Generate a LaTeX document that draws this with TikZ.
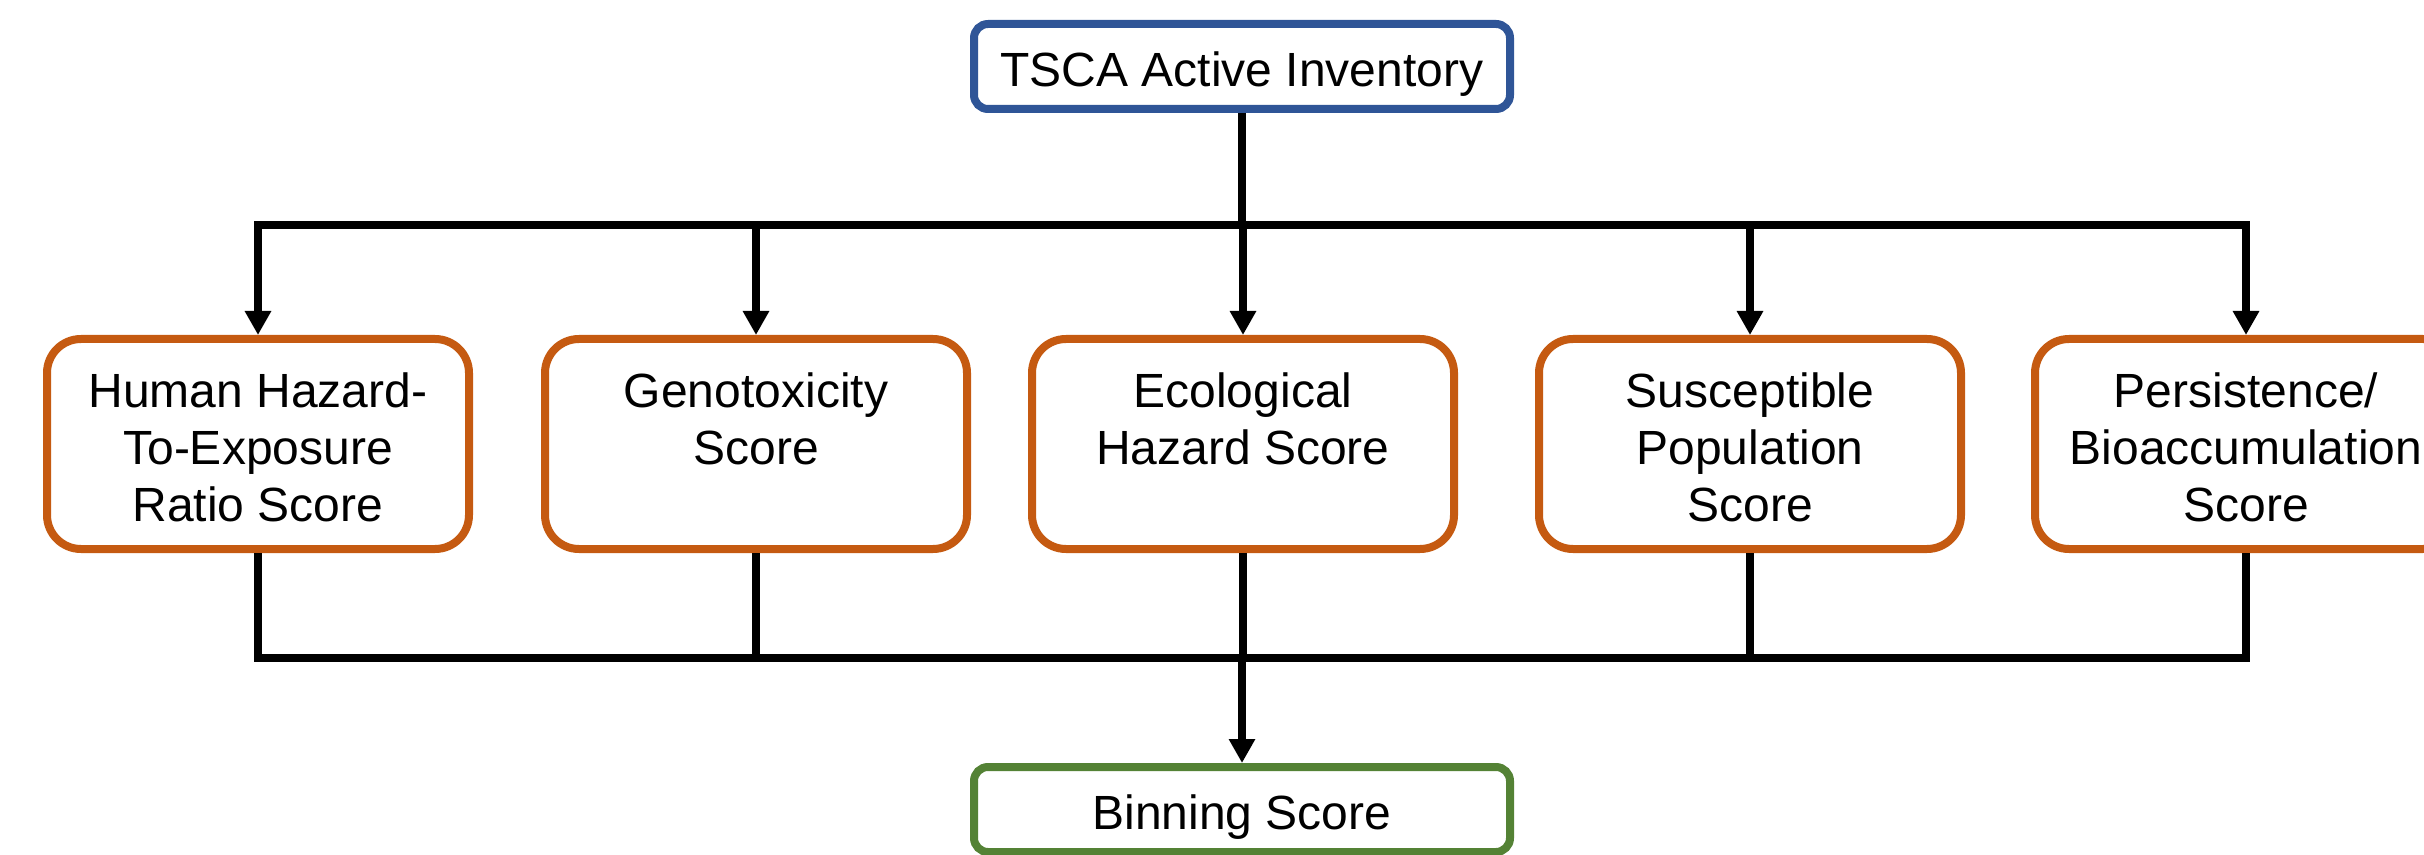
\documentclass[tikz,border=0pt]{standalone}
\usepackage{fontspec}
\setmainfont{Liberation Sans}
\usetikzlibrary{arrows.meta}
\definecolor{invblue}{HTML}{2F5597}
\definecolor{scoreorange}{HTML}{C55A11}
\definecolor{bingreen}{HTML}{548235}
\tikzset{
  boxfont/.style={font=\fontsize{24}{28.5}\selectfont},
  scorebox/.style={draw=scoreorange, line width=4pt, fill=white, rounded corners=17pt,
    minimum width=211pt, minimum height=105pt, align=center, inner sep=0pt, boxfont,
    text height=77.2pt, text depth=0pt},
  endbox/.style={line width=4pt, fill=white, rounded corners=7pt,
    minimum width=268pt, minimum height=42.5pt, align=center, inner sep=0pt, boxfont,
    text height=20.2pt, text depth=0pt},
  wire/.style={line width=4.2pt, black},
  bus/.style={wire, line cap=rect},
  feed/.style={wire, -{Triangle[width=12.5pt,length=12pt]}},
}
\begin{document}
\begin{tikzpicture}[x=0.5pt, y=-0.5pt]
\useasboundingbox (0,0) rectangle (2424,855);

% source and result
\node[endbox, draw=invblue] (inv) at (1242,66.5) {TSCA Active Inventory};
\node[endbox, draw=bingreen] (bin) at (1242,809.5) {Binning Score};

% the five scores
\node[scorebox] (hh)  at (258,444)  {Human Hazard-\\To-Exposure\\Ratio Score};
\node[scorebox] (gen) at (756,444)  {Genotoxicity\\Score\\~};
\node[scorebox] (eco) at (1243,444) {Ecological\\Hazard Score\\~};
\node[scorebox] (sus) at (1750,444) {Susceptible\\Population\\Score};
\node[scorebox] (pb)  at (2246,444) {Persistence/\\Bioaccumulation\\Score};

% distribution from the inventory
\coordinate (tb) at (1242,225);
\draw[wire] (inv.south) -- (tb);
\draw[bus] (hh.north |- tb) -- (pb.north |- tb);
\foreach \b in {hh,gen,eco,sus,pb}
  \draw[feed] (\b.north |- tb) -- (\b.north);

% collection into the binning score
\coordinate (bb) at (1242,658);
\draw[bus] (hh.south |- bb) -- (pb.south |- bb);
\foreach \b in {hh,gen,eco,sus,pb}
  \draw[wire] (\b.south) -- (\b.south |- bb);
\draw[feed] (bb) -- (bin.north);
\end{tikzpicture}
\end{document}
